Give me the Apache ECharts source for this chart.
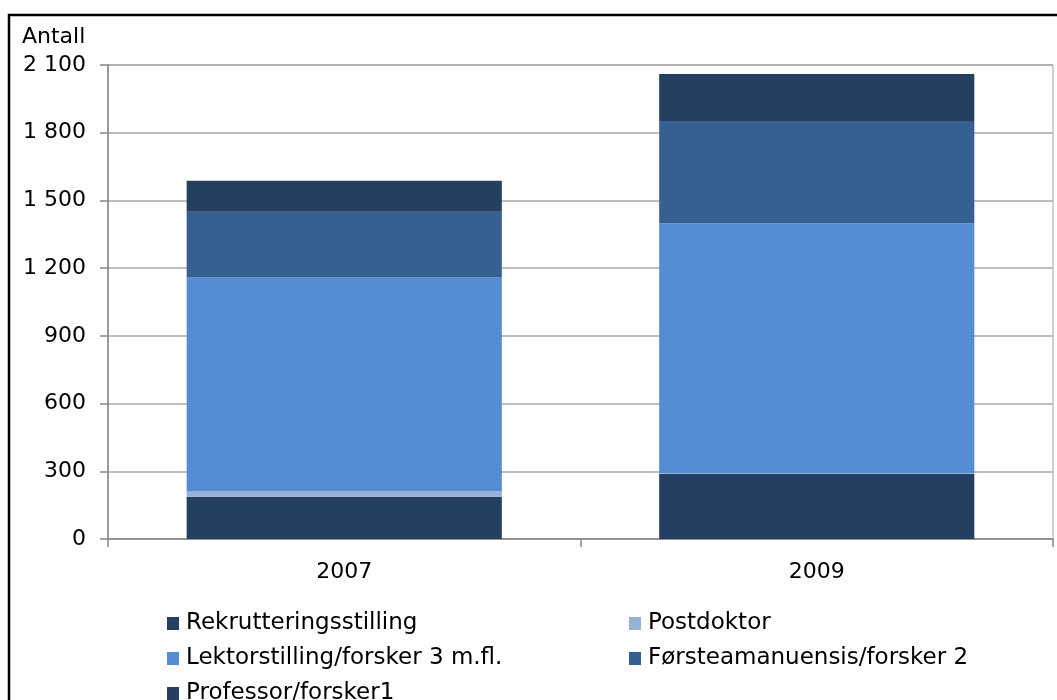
<!DOCTYPE html>
<html>
<head>
<meta charset="utf-8">
<script src="https://cdn.jsdelivr.net/npm/echarts@6/dist/echarts.min.js"></script>
<style>
html,body{margin:0;padding:0;background:#fff;}
#chart{width:1057px;height:700px;}
</style>
</head>
<body>
<div id="chart"></div>
<script>
var categories = ['2007', '2009'];
var rekruttering = [187, 288];
var postdoktor = [23, 3];
var lektor = [949, 1108];
var forsteamanuensis = [291, 453];
var professor = [137, 208];
var yTicks = [0, 300, 600, 900, 1200, 1500, 1800, 2100];
var seriesNames = ['Rekrutteringsstilling', 'Postdoktor', 'Lektorstilling/forsker 3 m.fl.', 'Førsteamanuensis/forsker 2', 'Professor/forsker1'];
var colors = ['#253f60', '#95b3d7', '#548dd4', '#366092', '#243f60'];

var font = 'DejaVu Sans';
var chart = echarts.init(document.getElementById('chart'), null, {renderer: 'canvas'});
var values = [rekruttering, postdoktor, lektor, forsteamanuensis, professor];
var series = seriesNames.map(function (n, i) {
  return {
    name: n, type: 'bar', stack: 'total', data: values[i],
    barCategoryGap: '33.3%',
    itemStyle: {color: colors[i]},
    emphasis: {disabled: true}
  };
});
var legendText = {fontFamily: font, fontSize: 23, color: '#000', padding: [0, 0, 0, 2]};
chart.setOption({
  animation: false,
  color: colors,
  graphic: [
    {type: 'rect', shape: {x: 9, y: 15, width: 1100, height: 800}, style: {fill: 'none', stroke: '#000', lineWidth: 2.5}, z: 100},
    {type: 'text', left: 22, top: 26, style: {text: 'Antall', font: '22px "DejaVu Sans"', fill: '#000'}}
  ],
  grid: {left: 108, right: 4, top: 65, bottom: 161, show: true, borderColor: '#a0a0a0', borderWidth: 1, backgroundColor: 'transparent'},
  xAxis: {
    type: 'category', data: categories,
    axisLine: {lineStyle: {color: '#888', width: 1.5}},
    axisTick: {show: true, length: 8, alignWithLabel: false, lineStyle: {color: '#888', width: 1.5}},
    axisLabel: {fontFamily: font, fontSize: 22, color: '#000', margin: 22}
  },
  yAxis: {
    type: 'value', min: 0, max: 2100, interval: 300,
    axisLine: {show: true, lineStyle: {color: '#888', width: 1.5}},
    axisTick: {show: true, length: 8, lineStyle: {color: '#888', width: 1.5}},
    splitLine: {lineStyle: {color: '#a8a8a8', width: 1.5}},
    axisLabel: {
      fontFamily: font, fontSize: 22, color: '#000', margin: 22,
      formatter: function (v) {
        return yTicks.indexOf(v) >= 0 ? String(v).replace(/\B(?=(\d{3})+(?!\d))/g, ' ') : '';
      }
    }
  },
  legend: [
    {data: ['Rekrutteringsstilling', 'Lektorstilling/forsker 3 m.fl.', 'Professor/forsker1'], orient: 'vertical', left: 167, top: 612, height: 200, padding: 0, itemWidth: 12, itemHeight: 13, itemGap: 12, icon: 'rect', textStyle: legendText, selectedMode: false},
    {data: ['Postdoktor', 'Førsteamanuensis/forsker 2'], orient: 'vertical', left: 629, top: 612, height: 200, padding: 0, itemWidth: 12, itemHeight: 13, itemGap: 12, icon: 'rect', textStyle: legendText, selectedMode: false}
  ],
  series: series
});
</script>
</body>
</html>
